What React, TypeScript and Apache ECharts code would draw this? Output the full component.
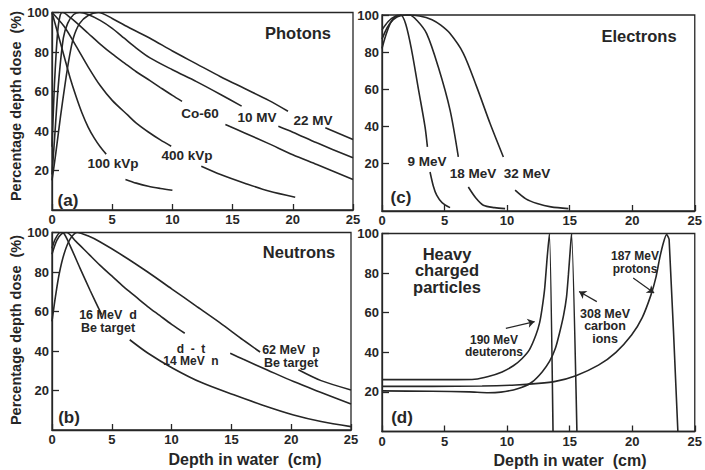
import React, { useEffect, useRef } from 'react';
import * as echarts from 'echarts';

// ---------- DATA (depth in cm, percentage depth dose) ----------
// Photons (a): each curve is a list of segments (gaps where labels sit)
const kvp100 = [
  [[0, 100], [0.5, 89], [1, 78], [1.5, 67], [2, 57.5], [2.5, 49], [3, 42], [3.5, 36.5], [4, 32], [4.5, 28.3]],
  [[6.1, 15.5], [7, 13.6], [8, 12], [9, 10.9], [10, 10]],
];
const kvp400 = [
  [[0, 100], [1, 93], [2, 83], [3, 72.5], [4, 63], [5, 55.5], [6.3, 48], [7, 44], [8, 39.5], [9, 35.5], [9.9, 32.3]],
  [[12.4, 22.2], [14, 18], [16, 13.6], [18, 9.6], [20.2, 6.5]],
];
const co60 = [
  [[0, 32], [0.1, 48], [0.2, 63], [0.35, 80], [0.5, 92], [0.7, 99], [0.9, 100], [1.5, 97.5], [2, 95], [3, 89.5], [4, 84], [5, 79], [6, 74.5], [7, 70], [8.14, 65.5], [9, 62], [10, 58], [10.8, 55]],
  [[14.4, 43.3], [16, 39], [18, 33.6], [20, 28], [22, 23], [25, 15.4]],
];
const mv10 = [
  [[0, 18], [0.2, 35], [0.53, 63.5], [0.94, 87], [1.3, 94.5], [1.8, 99], [2.3, 100], [3, 99], [4, 96], [5, 92], [6, 87], [7, 82], [8.14, 77], [10, 71], [12, 65], [14, 58.5], [15.75, 52.6]],
  [[18.8, 42.4], [20, 39.4], [22, 34], [25, 26.4]],
];
const mv22 = [
  [[0, 15], [0.3, 28], [0.7, 47], [1.08, 63.5], [1.4, 76], [1.77, 87], [2.3, 94.5], [3, 98.5], [3.85, 100], [5, 97], [6.5, 92], [8.14, 87], [10, 80.5], [12, 74], [14, 67.5], [16, 61.5], [18, 55.5], [19.6, 50]],
  [[22.7, 41.6], [25, 35.7]],
];

// Electrons (c)
const mev9 = [
  [[0, 82], [0.3, 89], [0.7, 96], [1.1, 99.5], [1.5, 100], [1.9, 95], [2.37, 81], [2.9, 60.5], [3.44, 39.8], [3.63, 29]],
  [[3.84, 15.5], [4.1, 8], [4.37, 3], [4.8, -1], [5.44, -3.7]],
];
const mev18 = [
  [[0, 87], [0.4, 93], [0.9, 97.5], [1.5, 99.7], [2.2, 100], [2.8, 97], [3.57, 90], [4.5, 72], [5.44, 48.8], [6.1, 23.6]],
  [[6.9, 7.4], [7.5, 1.5], [8.1, -2.4], [9, -3.7], [9.84, -4.2]],
];
const mev32 = [
  [[0, 92], [0.5, 96.5], [1, 99], [2, 100], [3, 99.5], [4, 97.5], [4.7, 94.5], [5.44, 90], [6.5, 79.4], [7.57, 61.3], [8.64, 41.6], [9.7, 23.6]],
  [[10.64, 5.7], [11.5, 1], [12.4, -1.5], [13.5, -3.3], [14.9, -4.2]],
];

// Neutrons (b)
const d16Be = [
  [[0, 92], [0.3, 97], [0.7, 100], [1, 99.5], [1.5, 93.5], [2.34, 82], [3.2, 70.5], [4.15, 58.4]],
  [[6.5, 45.7], [8, 39], [10.1, 31.3], [12.5, 24], [15.2, 17.8], [17.5, 12.8], [20.2, 7.6], [22.5, 4.3], [25, 1.7]],
];
const dt14 = [
  [[0, 89], [0.4, 96], [0.8, 99.3], [1.2, 100], [2, 95.5], [3, 89.5], [4, 83.5], [5, 78], [6, 72.5], [7, 67.5], [8, 62.5], [9, 58], [10, 53.5], [11.1, 49]],
  [[14.9, 38.9], [16, 35.8], [18, 30.4], [20.2, 24.5], [22.5, 19], [25, 13.2]],
];
const p62Be = [
  [[0, 55], [0.3, 68], [0.6, 79], [1, 89], [1.5, 96.5], [2.1, 100], [3, 98.3], [4, 95.3], [6, 88], [8, 80], [10, 71.5], [12, 63], [14, 54.5], [16, 45.5], [17.4, 39.5]],
  [[20.6, 30.5], [22.5, 25], [25, 20.3]],
];

// Heavy charged particles (d)
const deuterons190 = [[0, 26.2], [3, 26.2], [6, 26.2], [7.4, 26.4], [8.5, 27.8], [9.6, 30.1], [10.5, 33.2], [11.2, 36.9], [11.8, 41.5], [12.3, 48.7], [12.6, 55], [12.8, 62.3], [13, 72], [13.2, 87.7], [13.38, 100], [13.67, 0]];
const carbon308 = [[0, 20.5], [4, 20.3], [7, 20], [8.5, 19.6], [9.5, 19.9], [10.5, 21], [11.2, 22.3], [12, 25], [12.8, 30.1], [13.4, 35.5], [13.86, 42], [14.2, 50], [14.52, 58.9], [14.75, 68], [14.9, 79.2], [15.05, 92], [15.15, 100], [15.58, 0]];
const protons187 = [[0, 22.8], [4, 22.8], [8, 23], [10.7, 23.5], [12.5, 24.3], [13.86, 25.3], [15.5, 28.2], [17.3, 33.5], [18.7, 40], [19.95, 48.7], [20.8, 57.5], [21.5, 69], [21.9, 78], [22.2, 87.7], [22.5, 95.5], [22.75, 99.5], [22.95, 97], [23.65, 0]];

// Axis ticks
const depthTicks = [0, 5, 10, 15, 20, 25];
const doseTicks = [20, 40, 60, 80, 100];

// ---------- STYLE ----------
const FONT = "'Liberation Sans', Arial, Helvetica, sans-serif";
const INK = '#262626';

const grids = [
  { left: 52, top: 12.5, width: 301, height: 197.5 },   // a
  { left: 382, top: 15, width: 314, height: 196 },      // c
  { left: 52, top: 232.5, width: 299, height: 197.5 },  // b
  { left: 382, top: 233.5, width: 315, height: 198 },   // d
];

function xAxis(i: number) {
  return {
    type: 'value', gridIndex: i, min: depthTicks[0], max: depthTicks[depthTicks.length - 1], interval: 5,
    axisLine: { show: true, onZero: false, lineStyle: { color: INK, width: 1.3 } },
    axisTick: { show: true, inside: true, length: 6, lineStyle: { color: INK, width: 1.3 } },
    axisLabel: { color: INK, fontSize: 13, fontWeight: 'bold', fontFamily: FONT, margin: 3 },
    splitLine: { show: false },
  };
}
function yAxis(i: number, min: number) {
  const custom = min !== 0;
  return {
    type: 'value', gridIndex: i, min, max: 100,
    ...(custom ? {} : { interval: 20 }),
    axisLine: { show: true, onZero: false, lineStyle: { color: INK, width: 1.3 } },
    axisTick: { show: true, inside: true, length: 7, lineStyle: { color: INK, width: 1.3 }, ...(custom ? { customValues: doseTicks } : {}) },
    axisLabel: {
      color: INK, fontSize: 13, fontWeight: 'bold', fontFamily: FONT, margin: 3,
      ...(custom ? { customValues: doseTicks } : { showMinLabel: false }),
    },
    splitLine: { show: false },
  };
}

function segs(curve: number[][][], gi: number, smooth: number) {
  return curve.map((seg) => ({
    type: 'line', xAxisIndex: gi, yAxisIndex: gi, data: seg, smooth,
    showSymbol: false, symbol: 'none', silent: true, clip: true,
    lineStyle: { color: INK, width: 1.6 },
  }));
}

function arrow(from: number[], to: number[]) {
  return [{ coord: from, symbol: 'none' }, { coord: to, symbol: 'arrow' }];
}

type Lbl = { t: string; x: number; y: number; s?: number; lh?: number };
const labels: Lbl[] = [
  { t: 'Photons', x: 298, y: 33, s: 16.5 },
  { t: 'Co-60', x: 200, y: 113 },
  { t: '10 MV', x: 257, y: 117 },
  { t: '22 MV', x: 313, y: 120 },
  { t: '400 kVp', x: 187, y: 155 },
  { t: '100 kVp', x: 113, y: 163 },
  { t: '(a)', x: 68, y: 200, s: 17 },
  { t: 'Electrons', x: 639, y: 36, s: 16.5 },
  { t: '9 MeV', x: 427, y: 161.5 },
  { t: '18 MeV', x: 473, y: 173 },
  { t: '32 MeV', x: 527, y: 173 },
  { t: '(c)', x: 401, y: 197.5, s: 17 },
  { t: 'Neutrons', x: 299, y: 252, s: 16.5 },
  { t: '16 MeV  d\nBe target', x: 108, y: 321.5, s: 12.5, lh: 13 },
  { t: 'd  -  t\n14 MeV  n', x: 191, y: 355, s: 12, lh: 12.5 },
  { t: '62 MeV  p\nBe target', x: 291, y: 356.5, s: 12.5, lh: 13 },
  { t: '(b)', x: 69, y: 417.5, s: 17 },
  { t: 'Heavy\ncharged\nparticles', x: 447, y: 270, s: 16.5, lh: 16.5 },
  { t: '187 MeV\nprotons', x: 635, y: 262.5, s: 12, lh: 12.5 },
  { t: '308 MeV\ncarbon\nions', x: 605, y: 326, s: 12.5, lh: 12.5 },
  { t: '190 MeV\ndeuterons', x: 494, y: 346, s: 12, lh: 12.5 },
  { t: '(d)', x: 402, y: 417.5, s: 17 },
  { t: 'Depth in water  (cm)', x: 245, y: 459.5, s: 16 },
  { t: 'Depth in water  (cm)', x: 570, y: 460.5, s: 16 },
];

function textEl(l: Lbl) {
  const size = l.s ?? 13.5;
  return {
    type: 'text', x: l.x, y: l.y, z: 100, silent: true,
    style: {
      text: l.t, fill: INK, fontSize: size, fontWeight: 'bold', fontFamily: FONT,
      lineHeight: l.lh ?? Math.round(size * 1.15),
      align: 'center', verticalAlign: 'middle', textAlign: 'center', textVerticalAlign: 'middle',
    },
  };
}

export default function App() {
  const ref = useRef<HTMLDivElement>(null);
  useEffect(() => {
    if (!ref.current) return;
    const chart = echarts.init(ref.current, null, { renderer: 'svg' });
    const markArrows = {
      silent: true, symbol: ['none', 'arrow'], symbolSize: 7, precision: 3,
      label: { show: false },
      lineStyle: { color: INK, width: 1.2, type: 'solid' },
      emphasis: { disabled: true },
      data: [
        arrow([20.08, 77.5], [21.75, 69.9]),
        arrow([17.17, 65.6], [15.75, 70.7]),
        arrow([9.9, 52.1], [12.2, 55.5]),
      ],
    };
    const heavy = [deuterons190, carbon308, protons187].map((d, k) => ({
      type: 'line', xAxisIndex: 3, yAxisIndex: 3, data: d, smooth: 0.2,
      showSymbol: false, symbol: 'none', silent: true, clip: true,
      lineStyle: { color: INK, width: 1.6 },
      ...(k === 0 ? { markLine: markArrows } : {}),
    }));
    const yTitle = (y: number) => ({
      type: 'text', x: 16, y, rotation: Math.PI / 2, z: 100, silent: true,
      style: { text: 'Percentage depth dose  (%)', fill: INK, fontSize: 14.5, fontWeight: 'bold', fontFamily: FONT, align: 'center', verticalAlign: 'middle', textAlign: 'center', textVerticalAlign: 'middle' },
    });
    const option: any = {
      animation: false,
      backgroundColor: '#ffffff',
      grid: grids.map((g) => ({ ...g, show: true, borderColor: INK, borderWidth: 1.3, backgroundColor: 'transparent', containLabel: false })),
      xAxis: [0, 1, 2, 3].map((i) => xAxis(i)),
      yAxis: [yAxis(0, 0), yAxis(1, -5.5), yAxis(2, 0), yAxis(3, 0)],
      series: [
        ...segs(kvp100, 0, 0.3), ...segs(kvp400, 0, 0.3), ...segs(co60, 0, 0.3), ...segs(mv10, 0, 0.3), ...segs(mv22, 0, 0.3),
        ...segs(mev9, 1, 0.3), ...segs(mev18, 1, 0.3), ...segs(mev32, 1, 0.3),
        ...segs(d16Be, 2, 0.3), ...segs(dt14, 2, 0.3), ...segs(p62Be, 2, 0.3),
        ...heavy,
      ],
      graphic: [...labels.map(textEl), yTitle(106), yTitle(330)],
    };
    chart.setOption(option);
    return () => chart.dispose();
  }, []);
  return <div ref={ref} style={{ position: 'absolute', left: 0, top: 0, width: 705, height: 470, background: '#fff' }} />;
}
